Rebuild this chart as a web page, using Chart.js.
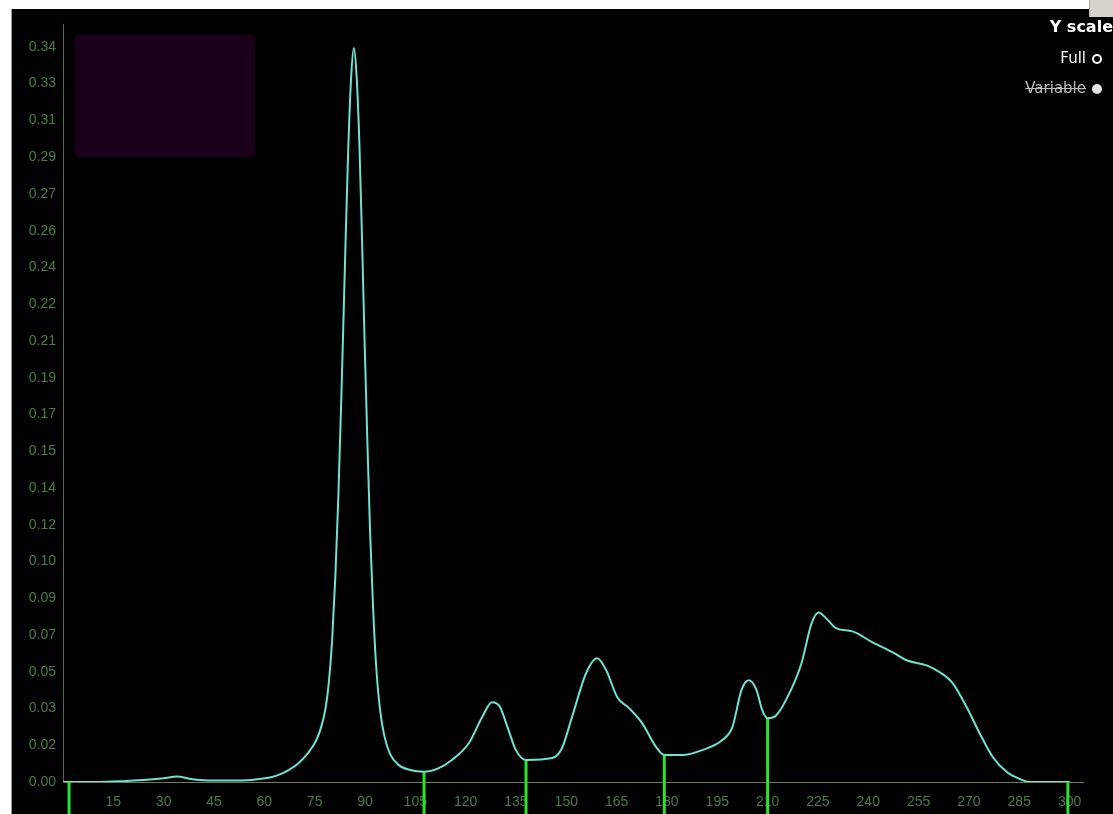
<!DOCTYPE html>
<html lang="en">
<head>
  <meta charset="UTF-8">
  <title>Distribution</title>
  <script src="https://cdn.jsdelivr.net/npm/chart.js@4.4.1/dist/chart.umd.min.js"></script>
  <style>
    body { margin: 0; background: #fff; width: 1113px; height: 814px; overflow: hidden; position: relative; font-family: "DejaVu Sans", Arial, sans-serif; }
    #wrap { position: absolute; left: 11px; top: 9px; width: 1102px; height: 805px; background: #000; border-left: 1px solid #999; }
    #corner { position: absolute; right: 0; top: 0; width: 23px; height: 17px; background: #d6d3cc; border-left: 1px solid #a9a69f; }
    #box { position: absolute; left: 75px; top: 35px; width: 180px; height: 122px; background: #1a0119; }
    .lg { position: absolute; right: 0; color: #fff; text-align: right; white-space: nowrap; line-height: 18px; }
    .dot { display: inline-block; width: 10px; height: 10px; border-radius: 50%; vertical-align: -1px; margin-left: 6px; box-sizing: border-box; }
  </style>
</head>
<body>
  <div id="wrap"><canvas id="chart" width="1102" height="805"></canvas></div>
  <div id="corner"></div>
  <div id="box"></div>
  <div class="lg" style="top:18px; font-weight:bold; font-size:16px; right:0;">Y scale</div>
  <div class="lg" style="top:49px; font-size:15px; right:11px;">Full<span class="dot" style="border:2.5px solid #fff;"></span></div>
  <div class="lg" style="top:79px; font-size:15px; right:11px;"><span style="text-decoration:line-through; color:#bdbdbd;">Variable</span><span class="dot" style="background:#e4e4e4;"></span></div>
  <script>

// curve samples (x, density)
const xs = [0, 10, 19, 25, 30, 34, 38, 42, 45, 50, 55, 58, 62, 65, 67.5, 70, 73, 75.5, 77, 78.2, 79.2, 80.2, 81.2, 82.1, 83, 84, 85, 85.9, 86.7,
  87.5, 88.3, 89.1, 89.9, 90.7, 91.5, 92.4, 93.3, 94.4, 95.7, 97.5, 100, 103.5, 107.6, 112, 115.9, 121, 124.9, 127.9, 130.2, 132.3, 135, 138,
  145.8, 148.7, 151.7, 155.9, 159.2, 161.9, 165.2, 168.7, 172.6, 176.8, 179.2, 184.6, 190.5, 196.5, 199.5, 202.2, 204.4,
  206.7, 208.4, 210, 212.6, 216.5, 220.1, 223.1, 225.2, 227.5, 230.5, 235.3, 241.3, 247.3, 251.4, 257.4, 261.3, 265.2,
  269.3, 273.2, 277.1, 281.3, 285.2, 288.1, 300];
const ys = [0, 0, 0.0005, 0.001, 0.0017, 0.0026, 0.0014, 0.0008, 0.0007, 0.0007, 0.0008, 0.0013, 0.0022, 0.0038, 0.0058, 0.0085, 0.0135, 0.0195, 0.026, 0.034, 0.046, 0.066, 0.097, 0.135, 0.182, 0.24, 0.295, 0.33, 0.343,
  0.33, 0.3, 0.255, 0.205, 0.16, 0.118, 0.082, 0.055, 0.035, 0.022, 0.013, 0.008, 0.0056, 0.0048, 0.0065, 0.0103, 0.0182, 0.0303, 0.0373, 0.0352, 0.0265, 0.0149, 0.0103,
  0.0112, 0.0158, 0.0303, 0.0508, 0.0578, 0.0522, 0.0396, 0.0345, 0.0275, 0.0163, 0.0126, 0.0126, 0.0149, 0.0196, 0.0256, 0.0429, 0.0475,
  0.0429, 0.0336, 0.0298, 0.0312, 0.0415, 0.0555, 0.0741, 0.0792, 0.0764, 0.0718, 0.0704, 0.0652, 0.0606, 0.0569, 0.0545, 0.0513, 0.0461,
  0.035, 0.0228, 0.0117, 0.0047, 0.0014, 0, 0];

// segment boundary markers
const markerXs = [-0.4, 1.8, 107.6, 138, 179.2, 210, 299.5];
const markerTops = [0, 0, 0.0048, 0.0103, 0.0126, 0.0298, 0];
const markerBottom = -0.02;

const xTickLabels = [15, 30, 45, 60, 75, 90, 105, 120, 135, 150, 165, 180, 195, 210, 225, 240, 255, 270, 285, 300];
const yTickLabels = ['0.00', '0.02', '0.03', '0.05', '0.07', '0.09', '0.10', '0.12', '0.14', '0.15', '0.17',
  '0.19', '0.21', '0.22', '0.24', '0.26', '0.27', '0.29', '0.31', '0.33', '0.34'];
const yTop = 0.3435;

const curve = xs.map((x, i) => ({ x: x, y: ys[i] }));
const marks = [];
markerXs.forEach((x, i) => {
  marks.push({ x: x, y: markerTops[i] });
  marks.push({ x: x, y: markerBottom });
  marks.push({ x: x, y: null });
});

const tickFont = { family: '"Liberation Sans Narrow", "Liberation Sans", Arial, sans-serif', size: 14 };
const tickColor = '#4c7a4c';

const ctx = document.getElementById('chart').getContext('2d');
new Chart(ctx, {
  type: 'line',
  data: {
    datasets: [{
      data: curve,
      borderColor: '#6ee3cf',
      borderWidth: 2,
      pointRadius: 0,
      cubicInterpolationMode: 'monotone',
      fill: false,
      order: 1
    }, {
      data: marks,
      borderColor: '#2fe02f',
      borderWidth: 3,
      pointRadius: 0,
      spanGaps: false,
      tension: 0,
      clip: false,
      order: 2
    }]
  },
  options: {
    responsive: false,
    animation: false,
    layout: { padding: { top: 13, right: 31, left: 0, bottom: 0 } },
    plugins: { legend: { display: false }, tooltip: { enabled: false } },
    scales: {
      x: {
        type: 'linear',
        min: 0,
        max: 304,
        grid: { display: false, drawTicks: false },
        border: { color: '#6f7d6a', width: 1 },
        afterBuildTicks: s => { s.ticks = xTickLabels.map(v => ({ value: v })); },
        afterFit: s => { s.height = 32; },
        ticks: { autoSkip: false, maxRotation: 0, padding: 12, color: tickColor, font: tickFont, callback: (v, i) => String(xTickLabels[i]) }
      },
      y: {
        min: 0,
        max: 0.354,
        grid: { display: false, drawTicks: false },
        border: { color: '#4e6a4e', width: 1 },
        afterBuildTicks: s => { s.ticks = yTickLabels.map((l, i) => ({ value: i * yTop / 20 })); },
        afterFit: s => { s.width = 51; },
        ticks: { autoSkip: false, padding: 7, color: tickColor, font: tickFont, callback: (v, i) => yTickLabels[i] }
      }
    }
  }
});
  </script>
</body>
</html>
